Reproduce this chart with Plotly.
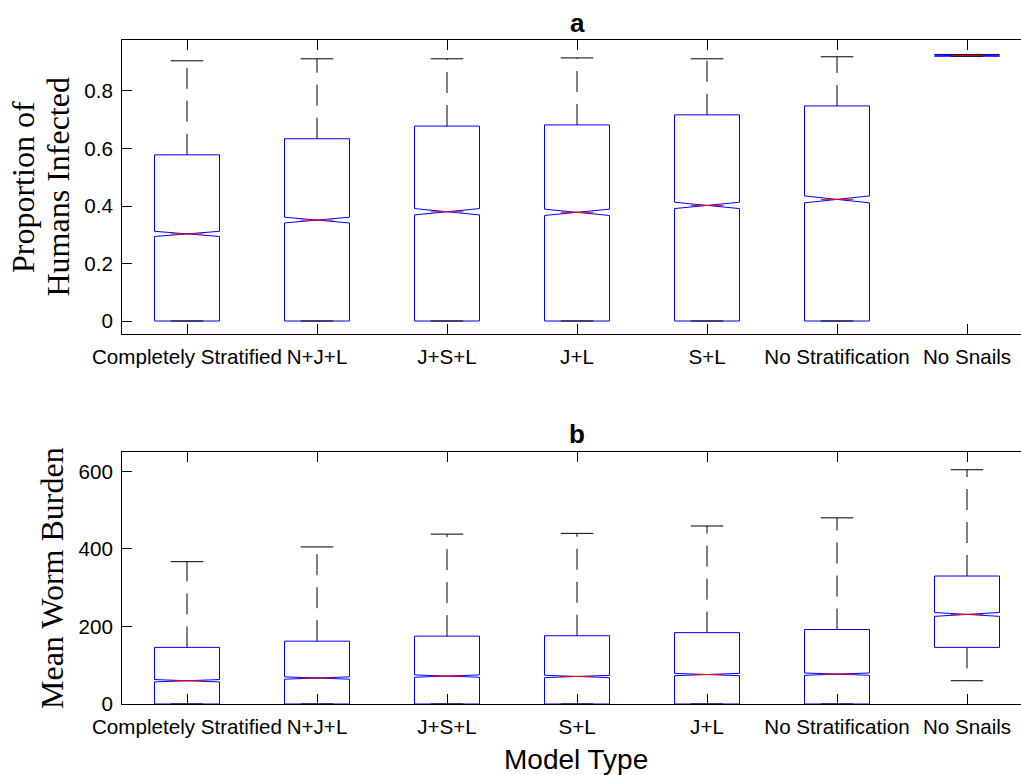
import plotly.graph_objects as go

# ---------------- data ----------------
positions = [1, 2, 3, 4, 5, 6, 7]

cats_a = ["Completely Stratified", "N+J+L", "J+S+L", "J+L", "S+L",
          "No Stratification", "No Snails"]
a_lower = [0, 0, 0, 0, 0, 0, 0.921]
a_q1 = [0, 0, 0, 0, 0, 0, 0.921]
a_median = [0.303, 0.351, 0.380, 0.378, 0.402, 0.423, 0.924]
a_q3 = [0.578, 0.634, 0.678, 0.682, 0.717, 0.748, 0.927]
a_upper = [0.905, 0.912, 0.912, 0.915, 0.912, 0.919, 0.927]
a_notch = [0.009, 0.010, 0.011, 0.011, 0.011, 0.012, 0.002]
a_ticks = [0, 0.2, 0.4, 0.6, 0.8]
a_ticktext = ["0", "0.2", "0.4", "0.6", "0.8"]

cats_b = ["Completely Stratified", "N+J+L", "J+S+L", "S+L", "J+L",
          "No Stratification", "No Snails"]
b_lower = [0, 0, 0, 0, 0, 0, 60]
b_q1 = [0, 0, 0, 0, 0, 0, 146]
b_median = [60, 67, 72, 71, 76, 77, 231]
b_q3 = [146, 162, 175, 176, 184, 192, 330]
b_upper = [367, 405, 438, 440, 459, 480, 604]
b_notch = [3, 3, 3, 3, 3, 3, 5]
b_ticks = [0, 200, 400, 600]
b_ticktext = ["0", "200", "400", "600"]

# ---------------- style ----------------
W, H = 1021, 775
L = 122
BOXW = 0.5
HALF_IN = BOXW / 4  # notch inner half-width / cap half-width
SANS = "Liberation Sans, Arial, Helvetica, sans-serif"
SERIF = "Liberation Serif, Times New Roman, serif"
TICKFONT = dict(family=SANS, size=20.6, color="black")

dom_a = [1 - 334 / H, 1 - 40.3 / H]
dom_b = [1 - 704 / H, 1 - 452.3 / H]

fig = go.Figure()


def add_panel(xref, yref, q1, med, q3, lo, up, notch):
    # notched box (box outline only; whiskers drawn separately)
    fig.add_trace(go.Box(
        x=positions, q1=q1, median=med, q3=q3,
        lowerfence=q1, upperfence=q3, notchspan=notch,
        notched=True, notchwidth=0.5, width=BOXW, whiskerwidth=0,
        line=dict(color="#0000ff", width=1), fillcolor="rgba(0,0,0,0)",
        boxpoints=False, showlegend=False, hoverinfo="skip",
        xaxis=xref, yaxis=yref))
    # dashed whiskers
    wx, wy = [], []
    for p, a, b, c, d in zip(positions, q1, q3, lo, up):
        wx += [p, p, None]
        wy += [b, d, None]
        if c < a:
            wx += [p, p, None]
            wy += [a, c, None]
    fig.add_trace(go.Scatter(
        x=wx, y=wy, mode="lines",
        line=dict(color="black", width=1, dash="21px,12px"),
        showlegend=False, hoverinfo="skip", xaxis=xref, yaxis=yref))
    # caps
    cx, cy = [], []
    for p, c, d in zip(positions, lo, up):
        cx += [p - HALF_IN, p + HALF_IN, None, p - HALF_IN, p + HALF_IN, None]
        cy += [d, d, None, c, c, None]
    fig.add_trace(go.Scatter(
        x=cx, y=cy, mode="lines", line=dict(color="black", width=1),
        showlegend=False, hoverinfo="skip", xaxis=xref, yaxis=yref))
    # red medians
    mx, my = [], []
    for p, m in zip(positions, med):
        mx += [p - HALF_IN, p + HALF_IN, None]
        my += [m, m, None]
    fig.add_trace(go.Scatter(
        x=mx, y=my, mode="lines", line=dict(color="#ff0000", width=1),
        showlegend=False, hoverinfo="skip", xaxis=xref, yaxis=yref))


add_panel("x", "y", a_q1, a_median, a_q3, a_lower, a_upper, a_notch)
add_panel("x2", "y2", b_q1, b_median, b_q3, b_lower, b_upper, b_notch)

xrange = [0.5, 0.5 + (W - L) / 130.0]
common_x = dict(domain=[0, 1], range=xrange, tickmode="array",
                tickvals=positions, ticks="inside", ticklen=10,
                tickcolor="black", tickwidth=1, showline=True,
                linecolor="black", linewidth=1, mirror="ticks",
                showgrid=False, zeroline=False, tickfont=TICKFONT,
                automargin=False, fixedrange=True, ticklabelstandoff=4)
common_y = dict(ticks="inside", ticklen=10, tickcolor="black", tickwidth=1,
                showline=True, linecolor="black", linewidth=1, mirror=False,
                showgrid=False, zeroline=False, tickfont=TICKFONT,
                automargin=False, tickmode="array", ticklabelstandoff=4,
                fixedrange=True)

fig.update_layout(
    width=W, height=H,
    margin=dict(l=L, r=0, t=0, b=0, pad=0),
    paper_bgcolor="white", plot_bgcolor="white",
    showlegend=False,
    xaxis=dict(common_x, ticktext=cats_a, anchor="y"),
    yaxis=dict(common_y, domain=dom_a, range=[-0.0452, 0.9763],
               tickvals=a_ticks, ticktext=a_ticktext, anchor="x"),
    xaxis2=dict(common_x, ticktext=cats_b, anchor="y2", layer="below traces"),
    yaxis2=dict(common_y, domain=dom_b, range=[0, 649],
                tickvals=b_ticks, ticktext=b_ticktext, anchor="x2"),
)


def ann(text, xpx, ypx, size, family, angle=0, bold=False):
    fig.add_annotation(
        text=f"<b>{text}</b>" if bold else text,
        xref="paper", yref="paper", x=0, y=1 - ypx / H,
        xshift=xpx - L, xanchor="center", yanchor="middle",
        textangle=angle, showarrow=False,
        font=dict(family=family, size=size, color="black"))


cx_axes = L + (4 - xrange[0]) * 130.0
ann("a", cx_axes, 23, 26, SANS, bold=True)
ann("b", cx_axes, 434, 26, SANS, bold=True)
ann("Model Type", cx_axes - 1, 759, 28, SANS)
ann("Proportion of", 23, 187, 32, SERIF, angle=-90)
ann("Humans Infected", 57.5, 187, 32, SERIF, angle=-90)
ann("Mean Worm Burden", 52, 578, 32, SERIF, angle=-90)

fig.write_html(
    "out.html",
    config={"displayModeBar": False},
    post_script="document.body.style.margin='0';"
                "document.body.style.overflow='hidden';",
)
